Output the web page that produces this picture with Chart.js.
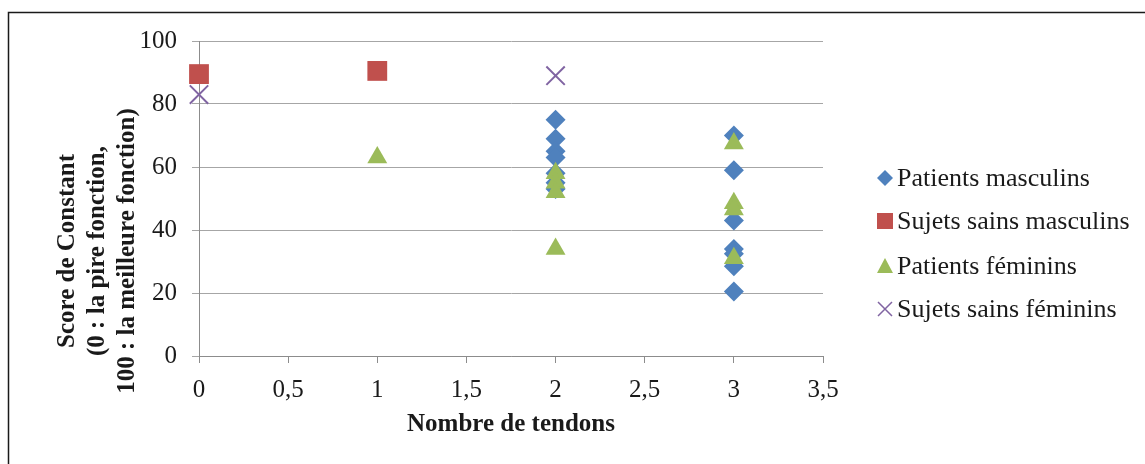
<!DOCTYPE html>
<html>
<head>
<meta charset="utf-8">
<script src="https://cdn.jsdelivr.net/npm/chart.js@4"></script>
<style>
  body { margin: 0; background: #fff; }
  canvas { display: block; }
</style>
</head>
<body>
<canvas id="chart" width="1145" height="464"></canvas>
<script>
// Data (x = number of tendons, y = Constant score)
const seriesNames = ['Patients masculins', 'Sujets sains masculins', 'Patients féminins', 'Sujets sains féminins'];
const malePatientsX = [2, 2, 2, 2, 2, 2, 2, 3, 3, 3, 3, 3, 3, 3];
const malePatientsY = [75, 69, 65, 63, 58, 55, 53, 70, 59, 43, 34, 32.5, 28.5, 20.5];
const maleHealthyX = [0, 1];
const maleHealthyY = [89.5, 90.5];
const femalePatientsX = [1, 2, 2, 2, 2, 3, 3, 3, 3];
const femalePatientsY = [63, 58, 55, 52, 34, 67.5, 48.5, 46.5, 31];
const femaleHealthyX = [0, 2];
const femaleHealthyY = [83, 89];
const xTicks = [0, 0.5, 1, 1.5, 2, 2.5, 3, 3.5];
const yTicks = [0, 20, 40, 60, 80, 100];

const colors = ['#4F81BD', '#C0504D', '#9BBB59', '#8064A2'];
const font = 'Liberation Serif, Times New Roman, serif';

function toPoints(xs, ys) {
    return xs.map((x, i) => ({x: x, y: ys[i]}));
}

// Frame, axis titles and legend drawn by hand
const extras = {
    id: 'extras',
    afterDraw(chart) {
        const ctx = chart.ctx;
        const area = chart.chartArea;
        ctx.save();

        // outer frame
        ctx.strokeStyle = '#1a1a1a';
        ctx.lineWidth = 1.5;
        ctx.strokeRect(8.5, 12.5, 1150, 470);

        // x title
        ctx.fillStyle = '#1a1a1a';
        ctx.font = 'bold 25px ' + font;
        ctx.textAlign = 'center';
        ctx.textBaseline = 'middle';
        ctx.fillText('Nombre de tendons', (area.left + area.right) / 2, 425);

        // y title, three lines
        ctx.save();
        ctx.translate(98, 251);
        ctx.rotate(-Math.PI / 2);
        ctx.fillText('Score de Constant', 0, -30);
        ctx.fillText('(0 : la pire fonction,', 0, 0);
        ctx.fillText('100 : la meilleure fonction)', 0, 30);
        ctx.restore();

        // legend
        const rows = [178, 221, 266, 309];
        ctx.font = '26px ' + font;
        ctx.textAlign = 'left';
        rows.forEach((y, i) => {
            const cx = 885;
            ctx.fillStyle = colors[i];
            ctx.strokeStyle = colors[i];
            ctx.beginPath();
            if (i === 0) {
                ctx.moveTo(cx, y - 8);
                ctx.lineTo(cx + 8, y);
                ctx.lineTo(cx, y + 8);
                ctx.lineTo(cx - 8, y);
                ctx.closePath();
                ctx.fill();
            } else if (i === 1) {
                ctx.rect(cx - 8, y - 8, 16, 16);
                ctx.fill();
            } else if (i === 2) {
                ctx.moveTo(cx, y - 8);
                ctx.lineTo(cx + 8, y + 7);
                ctx.lineTo(cx - 8, y + 7);
                ctx.closePath();
                ctx.fill();
            } else {
                ctx.lineWidth = 1.5;
                ctx.moveTo(cx - 7, y - 7);
                ctx.lineTo(cx + 7, y + 7);
                ctx.moveTo(cx + 7, y - 7);
                ctx.lineTo(cx - 7, y + 7);
                ctx.stroke();
            }
            ctx.fillStyle = '#1a1a1a';
            ctx.fillText(seriesNames[i], 897, y + 1);
        });
        ctx.restore();
    }
};

const ctx = document.getElementById('chart').getContext('2d');

new Chart(ctx, {
    type: 'scatter',
    data: {
        datasets: [{
            label: seriesNames[0],
            data: toPoints(malePatientsX, malePatientsY),
            pointStyle: 'rectRot',
            pointRadius: 10,
            backgroundColor: colors[0],
            borderColor: colors[0],
            pointBorderWidth: 0,
            order: 4
        }, {
            label: seriesNames[1],
            data: toPoints(maleHealthyX, maleHealthyY),
            pointStyle: 'rect',
            pointRadius: 14,
            backgroundColor: colors[1],
            borderColor: colors[1],
            pointBorderWidth: 0,
            order: 3
        }, {
            label: seriesNames[2],
            data: toPoints(femalePatientsX, femalePatientsY),
            pointStyle: 'triangle',
            pointRadius: 11.5,
            backgroundColor: colors[2],
            borderColor: colors[2],
            pointBorderWidth: 0,
            order: 2
        }, {
            label: seriesNames[3],
            data: toPoints(femaleHealthyX, femaleHealthyY),
            pointStyle: 'crossRot',
            pointRadius: 13,
            backgroundColor: colors[3],
            borderColor: colors[3],
            pointBorderWidth: 2,
            order: 1
        }]
    },
    options: {
        responsive: false,
        animation: false,
        clip: false,
        layout: {
            padding: {left: 0, top: 41, right: 322, bottom: 0}
        },
        plugins: {
            legend: {display: false},
            tooltip: {enabled: false}
        },
        scales: {
            x: {
                type: 'linear',
                min: 0,
                max: 3.5,
                afterFit: scale => { scale.height = 108; },
                afterBuildTicks: scale => { scale.ticks = xTicks.map(v => ({value: v})); },
                grid: {drawOnChartArea: false, color: '#8c8c8c', tickLength: 7},
                border: {color: '#8c8c8c'},
                ticks: {
                    color: '#1a1a1a',
                    padding: 12,
                    font: {family: font, size: 25},
                    callback: v => String(v).replace('.', ',')
                }
            },
            y: {
                min: 0,
                max: 100,
                afterFit: scale => { scale.width = 199; },
                afterBuildTicks: scale => { scale.ticks = yTicks.map(v => ({value: v})); },
                grid: {color: '#a6a6a6', tickLength: 7},
                border: {color: '#8c8c8c'},
                ticks: {
                    color: '#1a1a1a',
                    padding: 15,
                    font: {family: font, size: 25}
                }
            }
        }
    },
    plugins: [extras]
});
</script>
</body>
</html>
